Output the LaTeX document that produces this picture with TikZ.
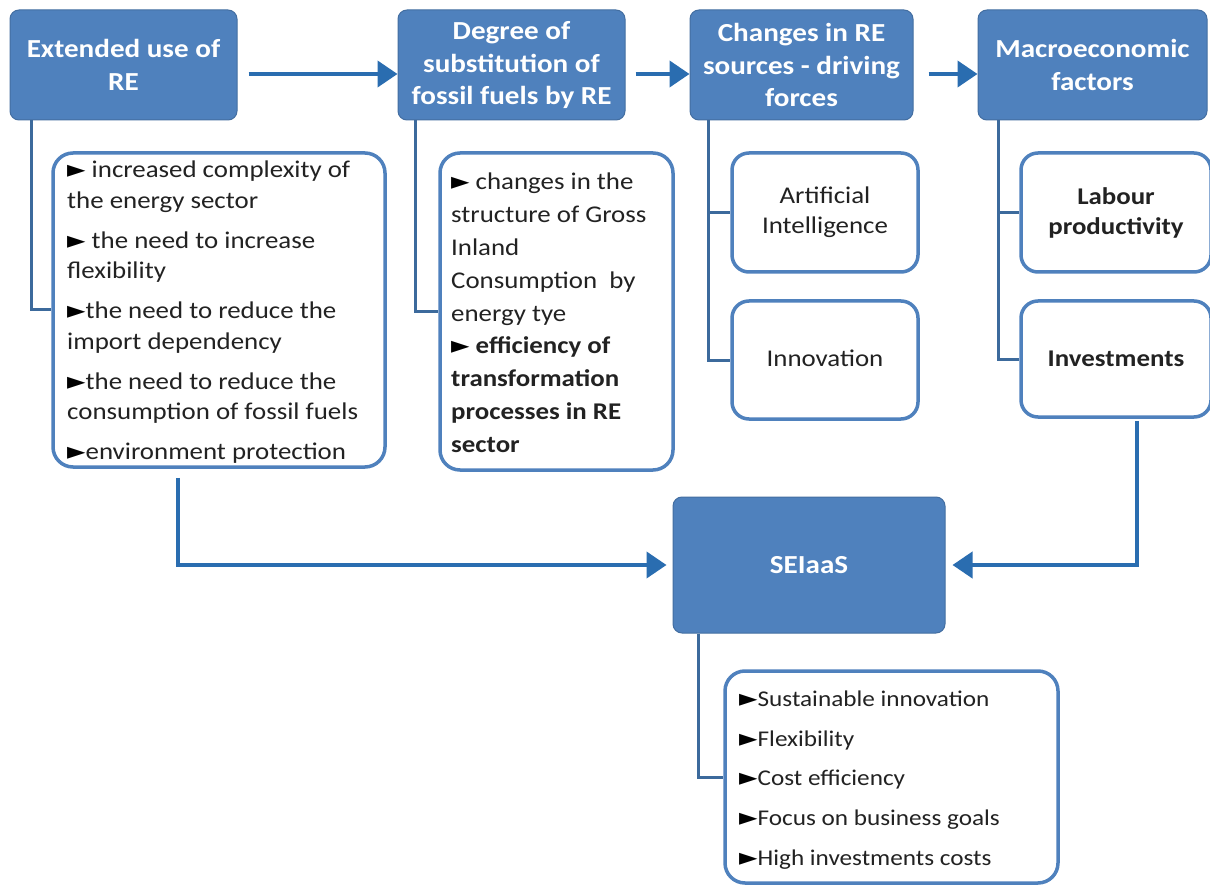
\documentclass[tikz,border=0pt]{standalone}
\usepackage{fontspec}
\setmainfont{Carlito}[FakeStretch=1.12]
\newfontfamily\symf{DejaVu Sans}
\usetikzlibrary{arrows.meta}
\definecolor{hdr}{HTML}{4F81BD}
\definecolor{tree}{HTML}{3C6A9C}
\definecolor{arr}{HTML}{2A6DB0}
\definecolor{txt}{HTML}{222222}
\newcommand{\tri}{{\symf\fontsize{24}{24}\selectfont\color{black}►}}
\tikzset{
  hdrbox/.style={draw=hdr!85!black, line width=1pt, fill=hdr, rounded corners=9pt, text=white,
    font=\bfseries\fontsize{26}{32.5}\selectfont, align=center, inner sep=0pt},
  subbox/.style={draw=hdr, line width=3.5pt, fill=white, rounded corners=20pt, inner sep=0pt},
  listtxt/.style={anchor=north west, align=left, text=txt, inner sep=0pt},
  boxtxt/.style={align=center, text=txt, font=\fontsize{24}{30}\selectfont, inner sep=0pt},
  treeline/.style={draw=tree, line width=3pt},
  flow/.style={draw=arr, line width=4pt, -{Triangle[length=20pt,width=26pt]}}
}
\begin{document}
\begin{tikzpicture}[x=1pt,y=-1pt]
\useasboundingbox[fill=white] (0,0) rectangle (1210,885);

% headers
\node[hdrbox, minimum width=227, minimum height=110] (h1) at (123.5,65) {Extended use of\\RE};
\node[hdrbox, minimum width=227, minimum height=110, text depth=4pt] (h2) at (511.5,65) {Degree of\\substitution of\\fossil fuels by RE};
\node[hdrbox, minimum width=223, minimum height=110] (h3) at (801.5,65) {Changes in RE\\sources - driving\\forces};
\node[hdrbox, minimum width=229, minimum height=110] (h4) at (1092.5,65) {Macroeconomic\\factors};
\node[hdrbox, minimum width=272, minimum height=136] (s) at (809,565) {SEIaaS};

% list boxes
\node[subbox, minimum width=332, minimum height=314] (la) at (219,310) {};
\node[listtxt, font=\fontsize{24}{30.5}\selectfont] (lat) at (67,161) {%
\tri\ increased complexity of\\the energy sector\\[9.5pt]
\tri\ the need to increase\\flexibility\\[9.5pt]
\tri the need to reduce the\\import dependency\\[9.5pt]
\tri the need to reduce the\\consumption of fossil fuels\\[9.5pt]
\tri environment protection};

\node[subbox, minimum width=233, minimum height=317] (lb) at (556.5,311.5) {};
\node[listtxt, font=\fontsize{24}{32.8}\selectfont] (lbt) at (451,173) {%
\tri\ changes in the\\structure of Gross\\Inland\\Consumption\ \ by\\energy tye\\
\tri\ \textbf{efficiency of}\\\textbf{transformation}\\\textbf{processes in RE}\\\textbf{sector}};

\node[subbox, rounded corners=17pt, minimum width=186, minimum height=119] (ai) at (825,212.5) {};
\node[boxtxt] (ait) at (ai) {Artificial\\Intelligence};
\node[subbox, rounded corners=17pt, minimum width=186, minimum height=118] (inn) at (825,360) {};
\node[boxtxt] (innt) at ([yshift=2pt]inn.center) {Innovation};
\node[subbox, rounded corners=17pt, minimum width=190, minimum height=119] (lp) at (1116,212.5) {};
\node[boxtxt, font=\bfseries\fontsize{24}{30}\selectfont] (lpt) at (lp) {Labour\\productivity};
\node[subbox, rounded corners=17pt, minimum width=190, minimum height=116] (inv) at (1116,359) {};
\node[boxtxt, font=\bfseries\fontsize{24}{30}\selectfont] (invt) at (inv) {Investments};

\node[subbox, minimum width=333, minimum height=212] (ls) at (891.5,777) {};
\node[listtxt, font=\fontsize{22.5}{39.8}\selectfont] (lst) at (739,690.5) {%
\tri Sustainable innovation\\
\tri Flexibility\\
\tri Cost efficiency\\
\tri Focus on business goals\\
\tri High investments costs};

% tree connectors
\draw[treeline] ([xshift=22pt]h1.south west) |- (la.west);
\draw[treeline] ([xshift=18pt]h2.south west) |- (lb.west);
\draw[treeline] ([xshift=19pt]h3.south west) |- (inn.west);
\draw[treeline] ([xshift=19pt]h3.south west |- ai.west) -- (ai.west);
\draw[treeline] ([xshift=21pt]h4.south west) |- (inv.west);
\draw[treeline] ([xshift=21pt]h4.south west |- lp.west) -- (lp.west);
\draw[treeline] ([xshift=26pt]s.south west) |- (ls.west);

% flow arrows
\draw[flow] ([shift={(11,9)}]h1.east) -- ([shift={(0,9)}]h2.west);
\draw[flow] ([shift={(10,9)}]h2.east) -- ([shift={(0,9)}]h3.west);
\draw[flow] ([shift={(15,9)}]h3.east) -- ([shift={(0,9)}]h4.west);
\draw[flow] ([shift={(-41,9)}]la.south) |- ([xshift=-6pt]s.west);
\draw[flow] ([shift={(21,2)}]inv.south) |- ([xshift=7pt]s.east);
\end{tikzpicture}
\end{document}
